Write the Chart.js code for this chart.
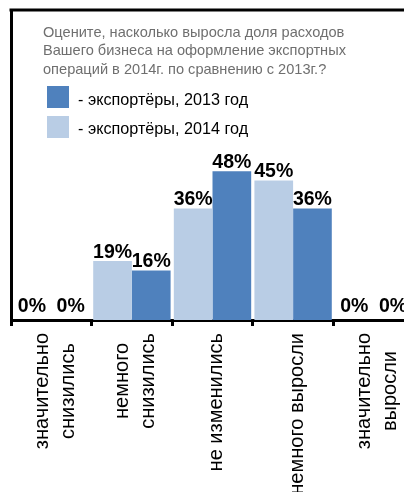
<!DOCTYPE html>
<html lang="ru">
<head>
<meta charset="utf-8">
<script src="https://cdn.jsdelivr.net/npm/chart.js@4.4.1/dist/chart.umd.min.js"></script>
<style>
  html, body { margin: 0; padding: 0; background: #fff; overflow: hidden; }
  #wrap { position: relative; width: 404px; height: 492px; overflow: hidden; }
  #chart { position: absolute; left: 0; top: 0; }
  .title { position: absolute; left: 43px; top: 23px; font: 14.6px/18.3px "Liberation Sans", Arial, sans-serif; color: #6f6f6f; white-space: nowrap; }
  .key { position: absolute; left: 47px; width: 22px; height: 22px; }
  .keytext { position: absolute; left: 78px; font: 16.2px/20px "Liberation Sans", Arial, sans-serif; color: #000; white-space: nowrap; }
</style>
</head>
<body>
<div id="wrap">
  <canvas id="chart" width="414" height="492"></canvas>
  <div class="title" id="title"></div>
  <div id="legend"></div>
</div>
<script>
// Survey answers (categories) and the share of exporters per answer, %
const categories = [
  ["значительно", "снизились"],
  ["немного", "снизились"],
  ["не изменились"],
  ["немного выросли"],
  ["значительно", "выросли"]
];
const exporters2014 = [0, 19, 36, 45, 0];
const exporters2013 = [0, 16, 48, 36, 0];
const seriesNames = { y2013: "- экспортёры, 2013 год", y2014: "- экспортёры, 2014 год" };
const titleLines = [
  "Оцените, насколько выросла доля расходов",
  "Вашего бизнеса на оформление экспортных",
  "операций в 2014г. по сравнению с 2013г.?"
];

const COLOR_2013 = "#4F81BD";
const COLOR_2014 = "#B9CDE5";

// Question text and the two-row key, laid over the plot area
document.getElementById("title").innerHTML = titleLines.join("<br>");
const legendRows = [
  { name: seriesNames.y2013, color: COLOR_2013 },
  { name: seriesNames.y2014, color: COLOR_2014 }
];
const legendEl = document.getElementById("legend");
legendRows.forEach((row, i) => {
  const box = document.createElement("div");
  box.className = "key";
  box.style.top = (86 + i * 30) + "px";
  box.style.background = row.color;
  const txt = document.createElement("div");
  txt.className = "keytext";
  txt.style.top = (88.5 + i * 29.5) + "px";
  txt.textContent = row.name;
  legendEl.appendChild(box);
  legendEl.appendChild(txt);
});

// Top edge of the frame around the plot
const frameTop = {
  id: "frameTop",
  beforeDatasetsDraw(chart) {
    const { ctx, chartArea } = chart;
    ctx.save();
    ctx.strokeStyle = "#000";
    ctx.lineWidth = 3;
    ctx.beginPath();
    ctx.moveTo(chartArea.left - 1.5, chartArea.top);
    ctx.lineTo(chart.width, chartArea.top);
    ctx.stroke();
    ctx.restore();
  }
};

// Percentage above every bar
const valueLabels = {
  id: "valueLabels",
  afterDatasetsDraw(chart) {
    const ctx = chart.ctx;
    ctx.save();
    ctx.font = 'bold 19.5px "Liberation Sans", Arial, sans-serif';
    ctx.fillStyle = "#000";
    ctx.textAlign = "center";
    ctx.textBaseline = "alphabetic";
    chart.data.datasets.forEach((ds, di) => {
      chart.getDatasetMeta(di).data.forEach((bar, i) => {
        const v = ds.data[i];
        const gap = v === 0 ? 8 : 3.5;
        ctx.fillText(v + "%", bar.x, bar.y - gap);
      });
    });
    ctx.restore();
  }
};

// Vertical category names, lines centred on each other
const categoryLabels = {
  id: "categoryLabels",
  afterDraw(chart) {
    const { ctx, chartArea } = chart;
    const xs = chart.scales.x;
    ctx.save();
    ctx.font = '20px "Liberation Sans", Arial, sans-serif';
    ctx.fillStyle = "#000";
    ctx.textAlign = "center";
    ctx.textBaseline = "middle";
    chart.data.labels.forEach((lines, i) => {
      const x = xs.getPixelForValue(i);
      const w = Math.max(...lines.map(l => ctx.measureText(l).width));
      const yc = chartArea.bottom + 13 + w / 2;
      ctx.save();
      ctx.translate(x, yc);
      ctx.rotate(-Math.PI / 2);
      lines.forEach((l, j) => ctx.fillText(l, 0, (j - (lines.length - 1) / 2) * 26 + 4));
      ctx.restore();
    });
    ctx.restore();
  }
};

new Chart(document.getElementById("chart"), {
  type: "bar",
  data: {
    labels: categories,
    datasets: [
      { label: seriesNames.y2014, data: exporters2014, backgroundColor: COLOR_2014 },
      { label: seriesNames.y2013, data: exporters2013, backgroundColor: COLOR_2013 }
    ]
  },
  options: {
    responsive: false,
    animation: false,
    devicePixelRatio: 1,
    layout: { padding: { left: 11, top: 10, right: 0, bottom: 166 } },
    datasets: { bar: { categoryPercentage: 0.96, barPercentage: 1.0, borderWidth: 0 } },
    plugins: { legend: { display: false }, tooltip: { enabled: false }, title: { display: false } },
    scales: {
      x: {
        offset: true,
        ticks: { display: false },
        grid: { display: true, offset: true, drawOnChartArea: false, drawTicks: true, tickLength: 6, tickWidth: 3, tickColor: "#000" },
        border: { display: true, width: 3, color: "#000" }
      },
      y: {
        min: 0,
        max: 100,
        ticks: { display: false },
        grid: { display: false, drawTicks: false },
        border: { display: true, width: 3, color: "#000" }
      }
    }
  },
  plugins: [frameTop, valueLabels, categoryLabels]
});
</script>
</body>
</html>
